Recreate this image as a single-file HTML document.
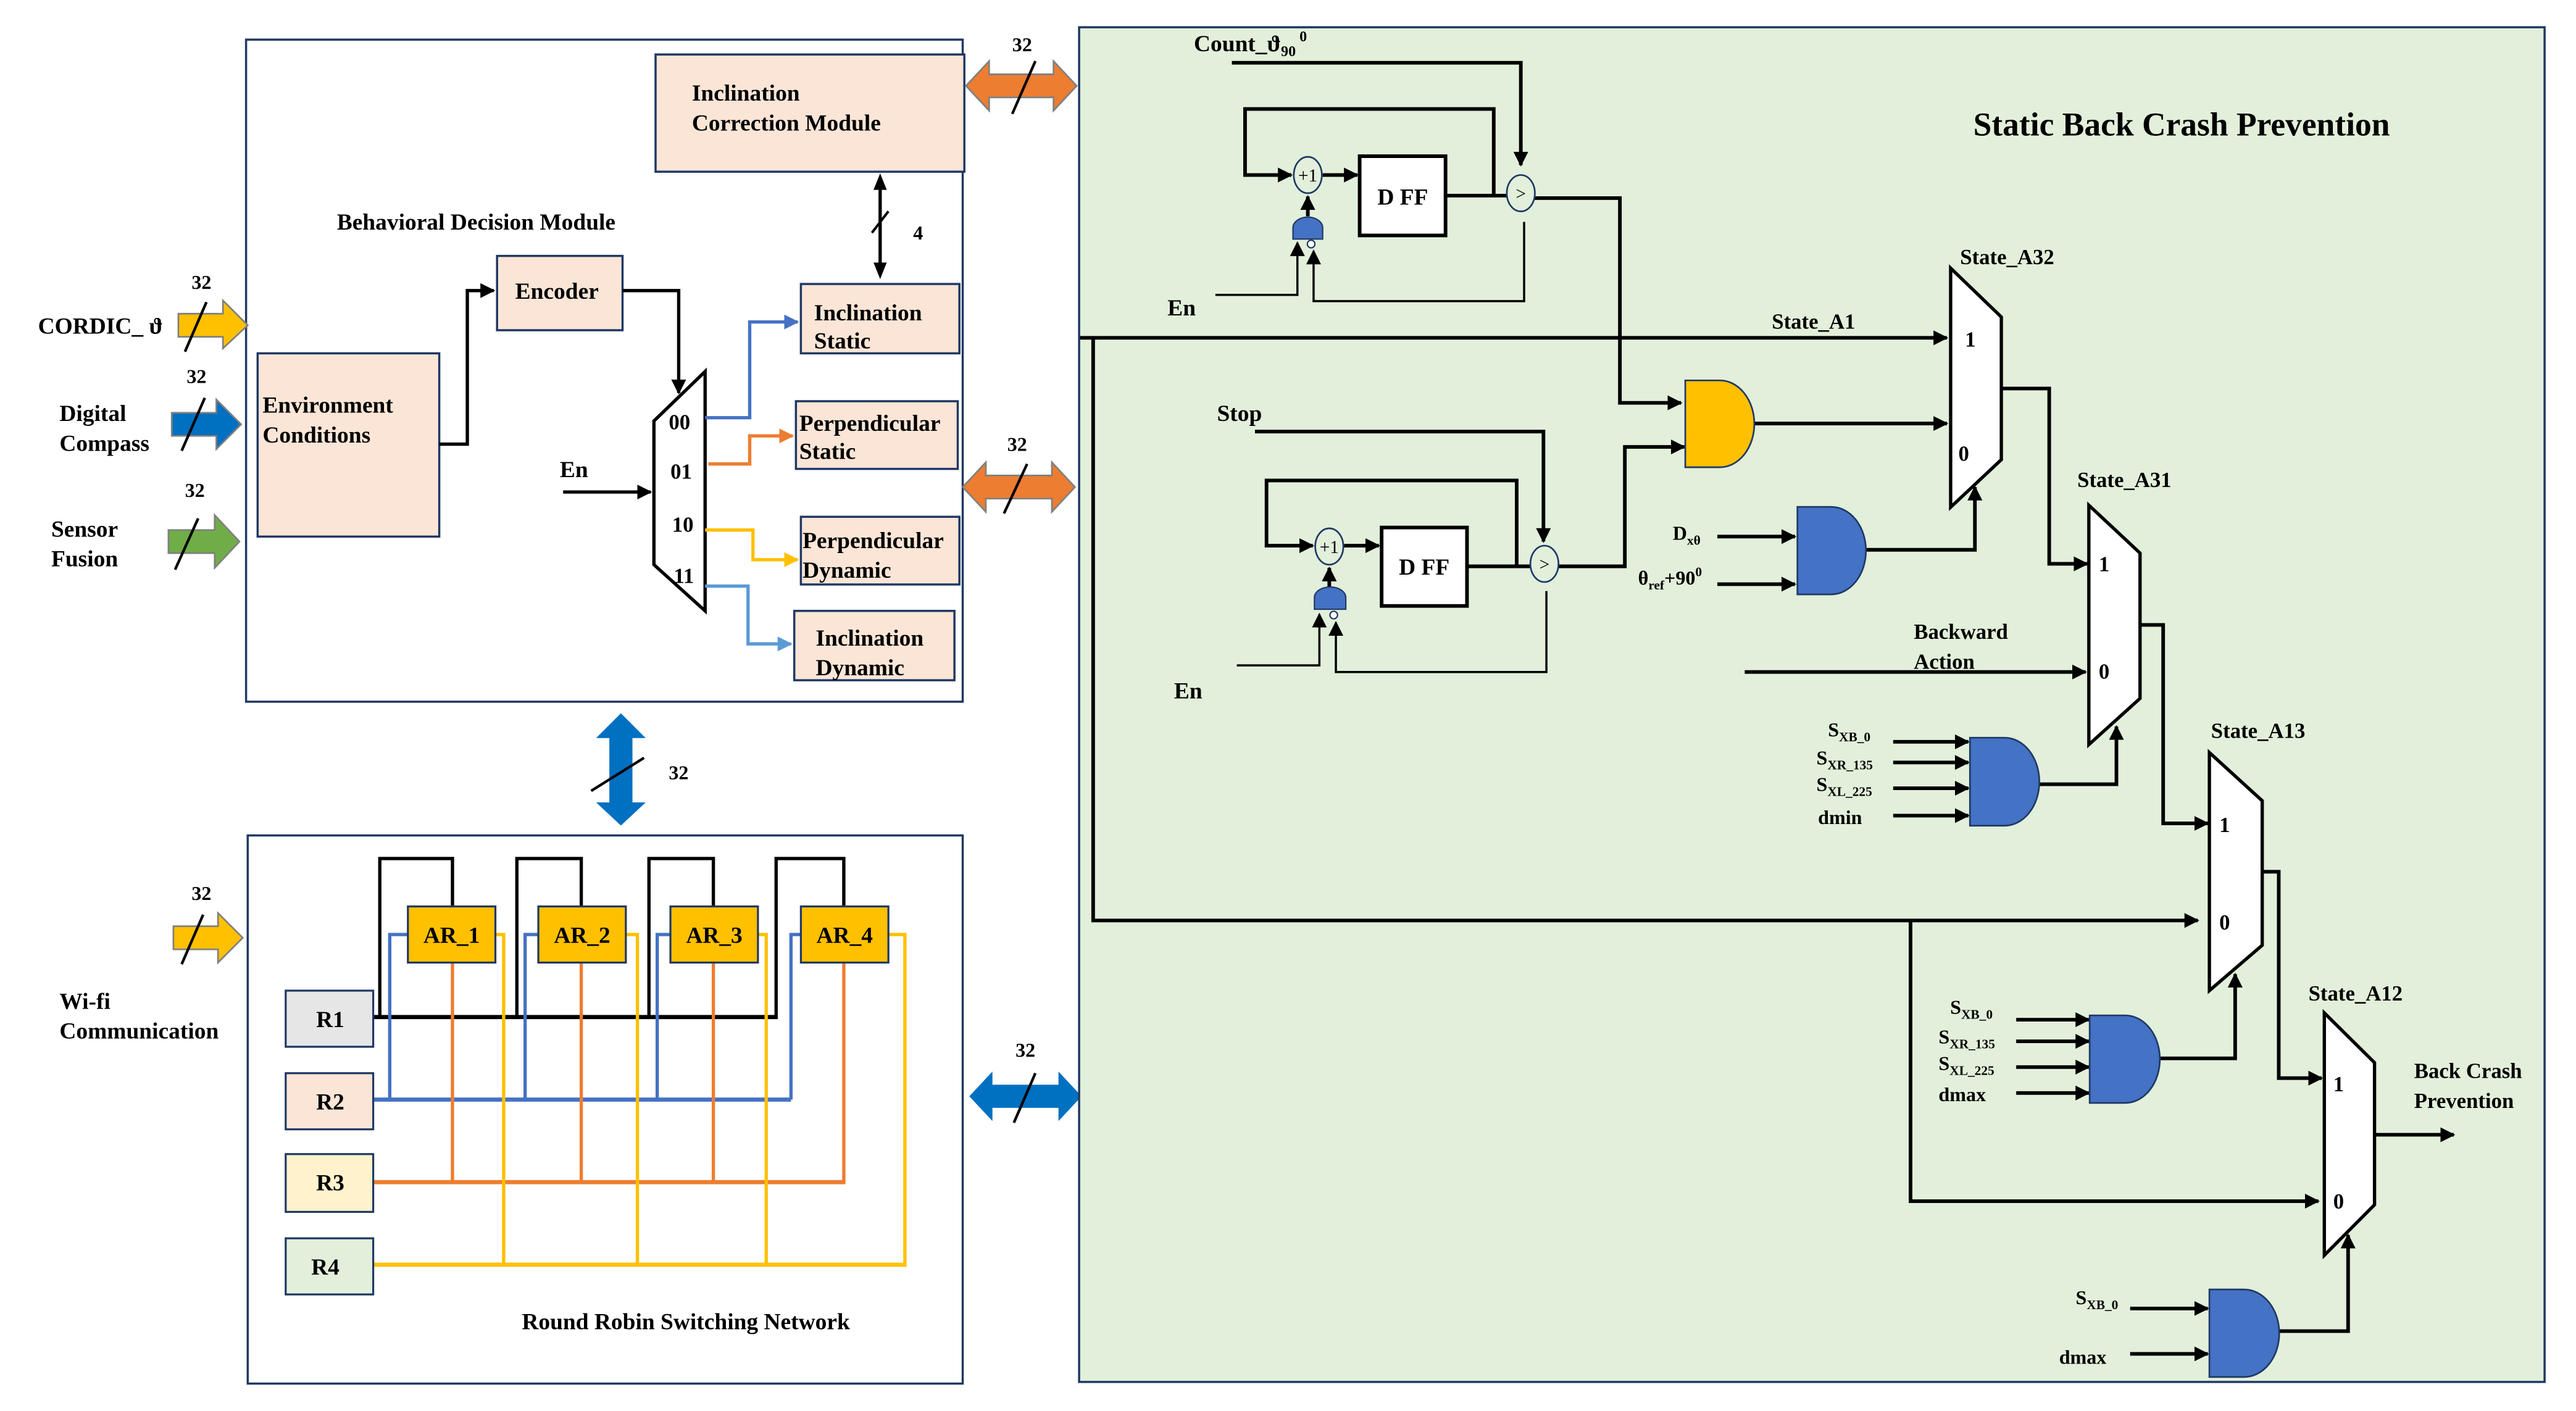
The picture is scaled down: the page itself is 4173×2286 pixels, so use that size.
<!DOCTYPE html>
<html><head><meta charset="utf-8"><style>
html,body{margin:0;padding:0;background:#fff;}
svg{display:block;}
text{font-family:"Liberation Serif",serif;font-weight:bold;fill:#000;}
</style></head><body>
<svg width="4173" height="2286" viewBox="0 0 1560 854.6" xmlns="http://www.w3.org/2000/svg">
<defs>
<marker id="k" viewBox="0 0 10 10" refX="9" refY="5" markerWidth="9" markerHeight="9" markerUnits="userSpaceOnUse" orient="auto"><path d="M0,0L10,5L0,10z" fill="#000"/></marker>
<marker id="b" viewBox="0 0 10 10" refX="9" refY="5" markerWidth="9" markerHeight="9" markerUnits="userSpaceOnUse" orient="auto"><path d="M0,0L10,5L0,10z" fill="#4472c4"/></marker>
<marker id="o" viewBox="0 0 10 10" refX="9" refY="5" markerWidth="9" markerHeight="9" markerUnits="userSpaceOnUse" orient="auto"><path d="M0,0L10,5L0,10z" fill="#ed7d31"/></marker>
<marker id="y" viewBox="0 0 10 10" refX="9" refY="5" markerWidth="9" markerHeight="9" markerUnits="userSpaceOnUse" orient="auto"><path d="M0,0L10,5L0,10z" fill="#ffc000"/></marker>
<marker id="l" viewBox="0 0 10 10" refX="9" refY="5" markerWidth="9" markerHeight="9" markerUnits="userSpaceOnUse" orient="auto"><path d="M0,0L10,5L0,10z" fill="#5b9bd5"/></marker>
</defs>

<!-- ===== Left top box ===== -->
<rect x="149" y="24" width="434" height="401" fill="#fff" stroke="#1f3864" stroke-width="1.3"/>
<rect x="397" y="33" width="187" height="71" fill="#fbe5d6" stroke="#1f3864" stroke-width="1.3"/>
<text x="419" y="61" font-size="14">Inclination</text>
<text x="419" y="79" font-size="14">Correction Module</text>
<text x="204" y="139" font-size="14">Behavioral Decision Module</text>
<rect x="301" y="155" width="76" height="45" fill="#fbe5d6" stroke="#1f3864" stroke-width="1.3"/>
<text x="312" y="181" font-size="14">Encoder</text>
<rect x="156" y="214" width="110" height="111" fill="#fbe5d6" stroke="#1f3864" stroke-width="1.3"/>
<text x="159" y="250" font-size="14">Environment</text>
<text x="159" y="268" font-size="14">Conditions</text>
<rect x="485" y="172" width="96" height="42" fill="#fbe5d6" stroke="#1f3864" stroke-width="1.3"/>
<text x="493" y="194" font-size="14">Inclination</text>
<text x="493" y="211" font-size="14">Static</text>
<rect x="482" y="243" width="98" height="41" fill="#fbe5d6" stroke="#1f3864" stroke-width="1.3"/>
<text x="484" y="261" font-size="14">Perpendicular</text>
<text x="484" y="278" font-size="14">Static</text>
<rect x="485" y="313" width="96" height="41" fill="#fbe5d6" stroke="#1f3864" stroke-width="1.3"/>
<text x="486" y="332" font-size="14">Perpendicular</text>
<text x="486" y="350" font-size="14">Dynamic</text>
<rect x="481" y="370" width="97" height="42" fill="#fbe5d6" stroke="#1f3864" stroke-width="1.3"/>
<text x="494" y="391" font-size="14">Inclination</text>
<text x="494" y="409" font-size="14">Dynamic</text>

<!-- demux -->
<polygon points="396,255 427,225 427,370 396,342" fill="#fff" stroke="#000" stroke-width="2"/>
<text x="405" y="260" font-size="13">00</text>
<text x="406" y="290" font-size="13">01</text>
<text x="407" y="322" font-size="13">10</text>
<text x="408" y="353" font-size="13">11</text>
<text x="339" y="289" font-size="14">En</text>
<line x1="341" y1="298" x2="394" y2="298" stroke="#000" stroke-width="2" marker-end="url(#k)"/>
<polyline points="266,269 283,269 283,176 299,176" fill="none" stroke="#000" stroke-width="2" marker-end="url(#k)"/>
<polyline points="377,176 411,176 411,238" fill="none" stroke="#000" stroke-width="2" marker-end="url(#k)"/>
<polyline points="427,253 454,253 454,195 483,195" fill="none" stroke="#4472c4" stroke-width="2" marker-end="url(#b)"/>
<polyline points="429,281 454,281 454,264 480,264" fill="none" stroke="#ed7d31" stroke-width="2" marker-end="url(#o)"/>
<polyline points="427,321 456,321 456,339 483,339" fill="none" stroke="#ffc000" stroke-width="2" marker-end="url(#y)"/>
<polyline points="427,355 453,355 453,390 479,390" fill="none" stroke="#5b9bd5" stroke-width="2" marker-end="url(#l)"/>
<!-- 4-bit arrow -->
<line x1="533" y1="115" x2="533" y2="160" stroke="#000" stroke-width="2"/>
<path d="M533,105 L529,115 L537,115z M533,169 L529,159 L537,159z" fill="#000"/>
<line x1="528" y1="141" x2="538" y2="128" stroke="#000" stroke-width="1.5"/>
<text x="553" y="145" font-size="12">4</text>

<!-- left inputs -->
<text x="23" y="202" font-size="14">CORDIC_ ϑ</text>
<path d="M108,190 H135 V182 L150,197 L135,211 V204 H108z" fill="#ffc000" stroke="#7f7f7f" stroke-width="1"/>
<line x1="112" y1="213" x2="125" y2="183" stroke="#000" stroke-width="1.6"/>
<text x="116" y="175" font-size="12">32</text>
<text x="36" y="255" font-size="14">Digital</text>
<text x="36" y="273" font-size="14">Compass</text>
<path d="M104,250 H131 V242 L146,257 L131,272 V264 H104z" fill="#0070c0" stroke="#7f7f7f" stroke-width="1"/>
<line x1="110" y1="273" x2="124" y2="241" stroke="#000" stroke-width="1.6"/>
<text x="113" y="232" font-size="12">32</text>
<text x="31" y="325" font-size="14">Sensor</text>
<text x="31" y="343" font-size="14">Fusion</text>
<path d="M102,321 H130 V312 L145,328 L130,344 V335 H102z" fill="#70ad47" stroke="#7f7f7f" stroke-width="1"/>
<line x1="106" y1="345" x2="120" y2="314" stroke="#000" stroke-width="1.6"/>
<text x="112" y="301" font-size="12">32</text>

<!-- orange double arrows -->
<path d="M585,52 L599,37 V45 H638 V37 L652,52 L638,67 V59 H599 V67z" fill="#ed7d31" stroke="#7f7f7f" stroke-width="1"/>
<line x1="613" y1="69" x2="627" y2="37" stroke="#000" stroke-width="1.6"/>
<text x="613" y="31" font-size="12">32</text>
<path d="M583,295 L597,280 V288 H637 V280 L651,295 L637,310 V302 H597 V310z" fill="#ed7d31" stroke="#7f7f7f" stroke-width="1"/>
<line x1="608" y1="311" x2="622" y2="281" stroke="#000" stroke-width="1.6"/>
<text x="610" y="273" font-size="12">32</text>

<!-- vertical blue double arrow -->
<path d="M376,432 L391,447 H383 V486 H391 L376,500 L361,486 H369 V447 H361z" fill="#0070c0"/>
<line x1="358" y1="479" x2="390" y2="459" stroke="#000" stroke-width="1.6"/>
<text x="405" y="472" font-size="12">32</text>

<!-- ===== Bottom-left box ===== -->
<rect x="150" y="506" width="433" height="332" fill="#fff" stroke="#1f3864" stroke-width="1.3"/>
<text x="36" y="611" font-size="14">Wi-fi</text>
<text x="36" y="629" font-size="14">Communication</text>
<path d="M105,561 H132 V553 L147,568 L132,583 V575 H105z" fill="#ffc000" stroke="#7f7f7f" stroke-width="1"/>
<line x1="110" y1="584" x2="123" y2="554" stroke="#000" stroke-width="1.6"/>
<text x="116" y="545" font-size="12">32</text>
<!-- blue right double arrow -->
<path d="M587,664 L601,649 V657 H641 V649 L655,664 L641,679 V671 H601 V679z" fill="#0070c0"/>
<line x1="614" y1="680" x2="627" y2="650" stroke="#000" stroke-width="1.6"/>
<text x="615" y="640" font-size="12">32</text>

<!-- black loops -->
<g fill="none" stroke="#000" stroke-width="2">
<polyline points="230,616 230,520 274,520 274,549"/>
<polyline points="313,616 313,520 352,520 352,549"/>
<polyline points="393,616 393,520 432,520 432,549"/>
<polyline points="470,616 470,520 511,520 511,549"/>
<line x1="226" y1="616" x2="471" y2="616" stroke-width="2.5"/>
</g>
<!-- blue -->
<g fill="none" stroke="#4472c4" stroke-width="2">
<polyline points="247,566 236,566 236,666"/>
<polyline points="326,566 318,566 318,666"/>
<polyline points="406,566 398,566 398,666"/>
<polyline points="485,566 479,566 479,666"/>
<line x1="226" y1="666" x2="479" y2="666" stroke-width="2.5"/>
</g>
<!-- orange -->
<g fill="none" stroke="#ed7d31" stroke-width="2">
<line x1="274" y1="583" x2="274" y2="716"/>
<line x1="352" y1="583" x2="352" y2="716"/>
<line x1="432" y1="583" x2="432" y2="716"/>
<line x1="511" y1="583" x2="511" y2="716"/>
<line x1="226" y1="716" x2="512" y2="716" stroke-width="2.5"/>
</g>
<!-- yellow -->
<g fill="none" stroke="#ffc000" stroke-width="2">
<polyline points="300,566 305,566 305,766"/>
<polyline points="379,566 386,566 386,766"/>
<polyline points="459,566 464,566 464,766"/>
<polyline points="538,566 548,566 548,766"/>
<line x1="226" y1="766" x2="549" y2="766" stroke-width="2.5"/>
</g>
<rect x="247" y="549" width="53" height="34" fill="#ffc000" stroke="#1f3864" stroke-width="1.2"/>
<rect x="326" y="549" width="53" height="34" fill="#ffc000" stroke="#1f3864" stroke-width="1.2"/>
<rect x="406" y="549" width="53" height="34" fill="#ffc000" stroke="#1f3864" stroke-width="1.2"/>
<rect x="485" y="549" width="53" height="34" fill="#ffc000" stroke="#1f3864" stroke-width="1.2"/>
<text x="273.5" y="571" font-size="14" text-anchor="middle">AR_1</text>
<text x="352.5" y="571" font-size="14" text-anchor="middle">AR_2</text>
<text x="432.5" y="571" font-size="14" text-anchor="middle">AR_3</text>
<text x="511.5" y="571" font-size="14" text-anchor="middle">AR_4</text>
<rect x="173" y="600" width="53" height="34" fill="#e7e6e6" stroke="#1f3864" stroke-width="1.2"/>
<rect x="173" y="650" width="53" height="34" fill="#fbe5d6" stroke="#1f3864" stroke-width="1.2"/>
<rect x="173" y="699" width="53" height="35" fill="#fff2cc" stroke="#1f3864" stroke-width="1.2"/>
<rect x="173" y="750" width="53" height="34" fill="#e2efda" stroke="#1f3864" stroke-width="1.2"/>
<text x="200" y="622" font-size="14" text-anchor="middle">R1</text>
<text x="200" y="672" font-size="14" text-anchor="middle">R2</text>
<text x="200" y="721" font-size="14" text-anchor="middle">R3</text>
<text x="197" y="772" font-size="14" text-anchor="middle">R4</text>
<text x="316" y="805" font-size="14">Round Robin Switching Network</text>

<!-- ===== Right green panel ===== -->
<rect x="653.5" y="16.5" width="887.5" height="820.5" fill="#e2efda" stroke="#1f3864" stroke-width="1.3"/>
<text x="1195" y="82" font-size="20">Static Back Crash Prevention</text>
<text x="723" y="31" font-size="14">Count_ϑ<tspan font-size="9" dy="3">90</tspan><tspan font-size="9" dy="-9"> 0</tspan></text>

<g fill="none" stroke="#000" stroke-width="2.2">
<polyline points="746,38 921,38 921,100" marker-end="url(#k)"/>
<polyline points="875,118.5 913,118.5"/>
<polyline points="904.6,118.5 904.6,66 754,66 754,106 782,106" marker-end="url(#k)"/>
<line x1="801" y1="106" x2="822" y2="106" marker-end="url(#k)"/>
<line x1="792" y1="131" x2="792" y2="119" marker-end="url(#k)"/>
<polyline points="929,120 981,120 981,244 1018,244" marker-end="url(#k)"/>
<polyline points="654,204.6 1179,204.6" marker-end="url(#k)"/>
<polyline points="662,204.6 662,557.5 1331,557.5" marker-end="url(#k)"/>
<polyline points="1157,557.5 1157,727.5 1404,727.5" marker-end="url(#k)"/>
<polyline points="760,261.4 934.7,261.4 934.7,328" marker-end="url(#k)"/>
<polyline points="888,343 927,343"/>
<polyline points="918.5,343 918.5,291 767,291 767,330.5 795,330.5" marker-end="url(#k)"/>
<line x1="814" y1="330.5" x2="835" y2="330.5" marker-end="url(#k)"/>
<line x1="805" y1="356" x2="805" y2="344" marker-end="url(#k)"/>
<polyline points="943.5,343 984,343 984,270.7 1020,270.7" marker-end="url(#k)"/>
<line x1="1062" y1="256.5" x2="1179" y2="256.5" marker-end="url(#k)"/>
<line x1="1040" y1="325" x2="1087" y2="325" marker-end="url(#k)"/>
<line x1="1040" y1="353.8" x2="1087" y2="353.8" marker-end="url(#k)"/>
<polyline points="1130,333 1196,333 1196,295" marker-end="url(#k)"/>
<polyline points="1212,235.3 1241,235.3 1241,341.5 1264,341.5" marker-end="url(#k)"/>
<line x1="1056.6" y1="407" x2="1263" y2="407" marker-end="url(#k)"/>
<polyline points="1235,475 1281.7,475 1281.7,440" marker-end="url(#k)"/>
<polyline points="1296,378.5 1310,378.5 1310,498.7 1337,498.7" marker-end="url(#k)"/>
<polyline points="1308,641 1353.6,641 1353.6,590" marker-end="url(#k)"/>
<polyline points="1370,528 1380,528 1380,653 1406,653" marker-end="url(#k)"/>
<polyline points="1380.3,806.2 1422,806.2 1422,748" marker-end="url(#k)"/>
<line x1="1438" y1="687.3" x2="1486" y2="687.3" marker-end="url(#k)"/>
<line x1="1146.5" y1="449.3" x2="1192" y2="449.3" marker-end="url(#k)"/>
<line x1="1146.5" y1="461.8" x2="1192" y2="461.8" marker-end="url(#k)"/>
<line x1="1146.5" y1="477.4" x2="1192" y2="477.4" marker-end="url(#k)"/>
<line x1="1146.5" y1="494" x2="1192" y2="494" marker-end="url(#k)"/>
<line x1="1221" y1="617.6" x2="1265" y2="617.6" marker-end="url(#k)"/>
<line x1="1221" y1="630.7" x2="1265" y2="630.7" marker-end="url(#k)"/>
<line x1="1221" y1="646.3" x2="1265" y2="646.3" marker-end="url(#k)"/>
<line x1="1221" y1="662" x2="1265" y2="662" marker-end="url(#k)"/>
<line x1="1290" y1="792.5" x2="1337" y2="792.5" marker-end="url(#k)"/>
<line x1="1290" y1="820" x2="1337" y2="820" marker-end="url(#k)"/>
</g>
<g fill="none" stroke="#000" stroke-width="1.3">
<polyline points="736,178.6 785.7,178.6 785.7,147" marker-end="url(#k)"/>
<polyline points="923,134.4 923,182.4 795.5,182.4 795.5,152" marker-end="url(#k)"/>
<polyline points="749,403 799,403 799,372" marker-end="url(#k)"/>
<polyline points="936.5,358 936.5,407 809,407 809,377" marker-end="url(#k)"/>
</g>
<text x="707" y="191" font-size="14">En</text>
<text x="711" y="423" font-size="14">En</text>
<text x="737" y="255" font-size="14">Stop</text>
<text x="1073" y="199" font-size="13">State_A1</text>

<ellipse cx="792" cy="106" rx="8.5" ry="11" fill="#e2efda" stroke="#1f3864" stroke-width="1"/>
<text x="792" y="110" font-size="11" text-anchor="middle" style="font-weight:normal">+1</text>
<rect x="823.4" y="94.6" width="52" height="48" fill="#fff" stroke="#000" stroke-width="2.2"/>
<text x="849.5" y="124" font-size="14" text-anchor="middle">D FF</text>
<ellipse cx="921" cy="117" rx="8.5" ry="11" fill="#e2efda" stroke="#1f3864" stroke-width="1"/>
<text x="921" y="121" font-size="11" text-anchor="middle" style="font-weight:normal">&gt;</text>
<path d="M783,144.8 V138 A9,6.5 0 0 1 801,138 V144.8z" fill="#4472c4" stroke="#1f3864" stroke-width="0.8"/>
<circle cx="794" cy="147.8" r="2.3" fill="#fff" stroke="#1f3864" stroke-width="0.8"/>

<ellipse cx="805" cy="331" rx="8.5" ry="11" fill="#e2efda" stroke="#1f3864" stroke-width="1"/>
<text x="805" y="335" font-size="11" text-anchor="middle" style="font-weight:normal">+1</text>
<rect x="836.7" y="319.5" width="51.7" height="47.5" fill="#fff" stroke="#000" stroke-width="2.2"/>
<text x="862.5" y="348" font-size="14" text-anchor="middle">D FF</text>
<ellipse cx="935.3" cy="341.5" rx="8.5" ry="11" fill="#e2efda" stroke="#1f3864" stroke-width="1"/>
<text x="935.3" y="345.5" font-size="11" text-anchor="middle" style="font-weight:normal">&gt;</text>
<path d="M796,369 V362 A9.5,6.5 0 0 1 815,362 V369z" fill="#4472c4" stroke="#1f3864" stroke-width="0.8"/>
<circle cx="807.7" cy="372.5" r="2.3" fill="#fff" stroke="#1f3864" stroke-width="0.8"/>

<path d="M1020.6,230.4 H1041.5 A20.9,26.3 0 0 1 1041.5,283 H1020.6z" fill="#ffc000" stroke="#1f3864" stroke-width="1"/>
<path d="M1088.5,307 H1109 A21,26.5 0 0 1 1109,360 H1088.5z" fill="#4472c4" stroke="#1f3864" stroke-width="1"/>
<path d="M1193,446.8 H1214 A21,26.65 0 0 1 1214,500.1 H1193z" fill="#4472c4" stroke="#1f3864" stroke-width="1"/>
<path d="M1265.5,615 H1287 A21,26.5 0 0 1 1287,668 H1265.5z" fill="#4472c4" stroke="#1f3864" stroke-width="1"/>
<path d="M1338,781 H1359 A21.3,26.5 0 0 1 1359,834 H1338z" fill="#4472c4" stroke="#1f3864" stroke-width="1"/>

<polygon points="1181.3,162.4 1212,192 1212,278.4 1181.3,307.2" fill="#fff" stroke="#000" stroke-width="2"/>
<polygon points="1265,306 1296,335 1296,423 1265,451" fill="#fff" stroke="#000" stroke-width="2"/>
<polygon points="1338,455.8 1370,485 1370,572.5 1338,600" fill="#fff" stroke="#000" stroke-width="2"/>
<polygon points="1407.6,613.5 1438,643.6 1438,729.7 1407.6,760.3" fill="#fff" stroke="#000" stroke-width="2"/>
<g font-size="13">
<text x="1190" y="210">1</text><text x="1186" y="279">0</text>
<text x="1271" y="346">1</text><text x="1271" y="411">0</text>
<text x="1344" y="504">1</text><text x="1344" y="563">0</text>
<text x="1413" y="661">1</text><text x="1413" y="732">0</text>
<text x="1187" y="160">State_A32</text>
<text x="1258" y="295">State_A31</text>
<text x="1339" y="447">State_A13</text>
<text x="1398" y="606">State_A12</text>
<text x="1159" y="387">Backward</text>
<text x="1159" y="405">Action</text>
<text x="1462" y="653">Back Crash</text>
<text x="1462" y="671">Prevention</text>
</g>
<g font-size="12">
<text x="1013" y="327">D<tspan font-size="8" dy="3">xθ</tspan></text>
<text x="992" y="354">θ<tspan font-size="8" dy="3">ref</tspan><tspan dy="-3">+90</tspan><tspan font-size="8" dy="-5">0</tspan></text>
<text x="1107" y="446">S<tspan font-size="8" dy="3">XB_0</tspan></text>
<text x="1100" y="463">S<tspan font-size="8" dy="3">XR_135</tspan></text>
<text x="1100" y="479">S<tspan font-size="8" dy="3">XL_225</tspan></text>
<text x="1101" y="499">dmin</text>
<text x="1181" y="614">S<tspan font-size="8" dy="3">XB_0</tspan></text>
<text x="1174" y="632">S<tspan font-size="8" dy="3">XR_135</tspan></text>
<text x="1174" y="648">S<tspan font-size="8" dy="3">XL_225</tspan></text>
<text x="1174" y="667">dmax</text>
<text x="1257" y="790">S<tspan font-size="8" dy="3">XB_0</tspan></text>
<text x="1247" y="826">dmax</text>
</g>
</svg>
</body></html>
